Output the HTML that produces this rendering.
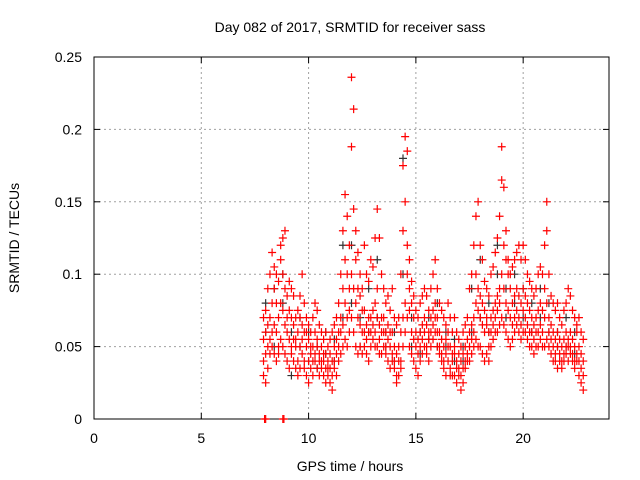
<!DOCTYPE html>
<html><head><meta charset="utf-8"><style>
body{margin:0;background:#fff;}
svg{display:block;font-family:"Liberation Sans",sans-serif;}
</style></head><body>
<svg id="chart" width="640" height="480">
<rect x="0" y="0" width="640" height="480" fill="#fff"/>
<g id="grid"></g><g id="axes"></g><g id="black"></g><g id="red"></g>
<text x="350" y="32" text-anchor="middle" font-size="14">Day 082 of 2017, SRMTID for receiver sass</text>
<text x="350" y="471" text-anchor="middle" font-size="14">GPS time / hours</text>
<text transform="translate(19,238) rotate(-90)" text-anchor="middle" font-size="14">SRMTID / TECUs</text>
</svg>
<script>
const xTicks=[0,5,10,15,20];
const yTicks=[0,0.05,0.1,0.15,0.2,0.25];
const yTickLabels=["0","0.05","0.1","0.15","0.2","0.25"];
const redTimes=[7.9,8.0,8.1,8.2,8.3,8.4,8.5,8.6,8.7,8.8,8.9,9.0,9.1,9.2,9.3,9.4,9.5,9.6,9.7,9.8,9.9,10.0,10.1,10.2,10.3,10.4,10.5,10.6,10.7,10.8,10.9,11.0,11.1,11.2,11.3,11.4,11.5,11.6,11.7,11.8,11.9,12.0,12.1,12.2,12.3,12.4,12.5,12.6,12.7,12.8,12.9,13.0,13.1,13.2,13.3,13.4,13.5,13.6,13.7,13.8,13.9,14.0,14.1,14.2,14.3,14.4,14.5,14.6,14.7,14.8,14.9,15.0,15.1,15.2,15.3,15.4,15.5,15.6,15.7,15.8,15.9,16.0,16.1,16.2,16.3,16.4,16.5,16.6,16.7,16.8,16.9,17.0,17.1,17.2,17.3,17.4,17.5,17.6,17.7,17.8,17.9,18.0,18.1,18.2,18.3,18.4,18.5,18.6,18.7,18.8,18.9,19.0,19.1,19.2,19.3,19.4,19.5,19.6,19.7,19.8,19.9,20.0,20.1,20.2,20.3,20.4,20.5,20.6,20.7,20.8,20.9,21.0,21.1,21.2,21.3,21.4,21.5,21.6,21.7,21.8,21.9,22.0,22.1,22.2,22.3,22.4,22.5,22.6,22.7,22.8];
const redValues=[[.055,.04,.07,.03],[.06,.045,.075,.025],[.05,.035,.065,.09],[.07,.045,.1,.055],[.08,.06,.115,.05],[.065,.045,.09,.105],[.06,.04,.08,.1],[.07,.05,.095,.045],[.08,.055,.11,.12],[.075,.05,.125,.1],[.065,.045,.13,.09],[.06,.04,.085,.07],[.055,.035,.075,.095],[.07,.05,.09,.045],[.065,.04,.085,.055],[.055,.035,.07,.05],[.06,.04,.075,.03],[.05,.035,.07,.085],[.065,.045,.1,.055],[.06,.04,.08,.035],[.05,.03,.07,.06],[.055,.04,.065,.025],[.045,.035,.06,.05],[.05,.03,.07,.04],[.06,.04,.08,.045],[.055,.035,.075,.05],[.045,.03,.065,.04],[.05,.035,.06,.04],[.04,.03,.055,.045],[.045,.035,.06,.025],[.04,.03,.05,.035],[.045,.025,.055,.035],[.04,.02,.06,.03],[.05,.035,.065,.04],[.045,.03,.07,.055],[.06,.04,.08,.05],[.07,.045,.1,.06],[.065,.05,.13,.09],[.08,.055,.155,.11],[.07,.05,.14,.1],[.09,.06,.12,.075],[.1,.07,.236,.188],[.09,.06,.214,.145],[.08,.05,.13,.11],[.07,.045,.115,.09],[.065,.05,.1,.085],[.06,.045,.09,.075],[.075,.05,.12,.06],[.065,.045,.1,.055],[.06,.04,.095,.07],[.07,.05,.11,.06],[.075,.055,.105,.065],[.08,.05,.125,.06],[.07,.05,.145,.09],[.065,.045,.125,.055],[.06,.045,.1,.07],[.07,.05,.09,.06],[.06,.045,.08,.05],[.055,.04,.085,.065],[.05,.035,.075,.06],[.06,.04,.09,.045],[.05,.035,.07,.04],[.045,.03,.065,.025],[.05,.03,.07,.04],[.06,.04,.1,.035],[.07,.05,.175,.13],[.08,.06,.195,.15],[.1,.07,.185,.12],[.075,.05,.11,.09],[.06,.045,.095,.08],[.055,.04,.085,.07],[.05,.035,.075,.06],[.045,.03,.07,.055],[.06,.04,.08,.05],[.065,.045,.085,.055],[.07,.05,.09,.06],[.065,.045,.085,.05],[.06,.04,.075,.055],[.07,.05,.09,.06],[.075,.055,.1,.065],[.08,.06,.11,.07],[.07,.05,.09,.06],[.06,.045,.08,.05],[.055,.04,.075,.045],[.05,.035,.07,.04],[.055,.03,.065,.045],[.06,.04,.08,.05],[.05,.035,.07,.03],[.045,.03,.06,.04],[.05,.03,.07,.045],[.04,.025,.06,.035],[.045,.03,.055,.035],[.04,.02,.05,.03],[.045,.025,.06,.035],[.05,.035,.065,.04],[.055,.04,.07,.045],[.06,.04,.09,.05],[.065,.045,.1,.055],[.07,.05,.12,.06],[.08,.055,.14,.1],[.075,.05,.15,.09],[.07,.05,.12,.085],[.065,.045,.11,.08],[.06,.04,.095,.075],[.065,.045,.09,.07],[.06,.04,.085,.05],[.07,.05,.1,.06],[.075,.055,.105,.065],[.08,.06,.115,.07],[.085,.06,.125,.075],[.09,.065,.14,.08],[.1,.07,.188,.165],[.09,.065,.16,.12],[.08,.06,.13,.11],[.075,.055,.11,.1],[.07,.05,.1,.09],[.08,.055,.105,.065],[.085,.06,.11,.07],[.09,.065,.115,.075],[.085,.06,.12,.07],[.08,.055,.11,.065],[.09,.06,.12,.075],[.085,.06,.11,.07],[.08,.055,.1,.065],[.075,.05,.095,.06],[.07,.05,.09,.06],[.065,.045,.085,.055],[.07,.05,.09,.06],[.075,.05,.1,.06],[.08,.055,.105,.065],[.075,.05,.1,.06],[.07,.05,.12,.09],[.08,.055,.15,.13],[.07,.05,.1,.06],[.065,.045,.085,.055],[.06,.04,.08,.05],[.055,.04,.075,.045],[.06,.035,.08,.05],[.055,.04,.07,.045],[.05,.035,.065,.04],[.055,.04,.075,.045],[.06,.045,.08,.05],[.055,.04,.09,.05],[.06,.045,.085,.05],[.055,.04,.075,.045],[.05,.035,.07,.04],[.06,.04,.065,.045],[.05,.03,.07,.04],[.045,.025,.06,.035],[.04,.02,.055,.03]];
const redZeroTimes=[7.95,8.0,8.8,8.85];
const blackTimes=[8.0,8.4,8.8,9.2,9.6,10.0,10.4,10.8,11.2,11.6,12.0,12.4,12.8,13.2,13.6,14.0,14.4,14.8,15.2,15.6,16.0,16.4,16.8,17.2,17.6,18.0,18.4,18.8,19.2,19.6,20.0,20.4,20.8,21.2,21.6,22.0,22.4];
const blackValues=[[.06,.08],[.05,.09],[.08,.1],[.03,.06],[.05,.07],[.04,.06],[.05,.035],[.045,.06],[.04,.055],[.07,.12],[.12,.08],[.07,.05],[.06,.09],[.11,.07],[.06,.05],[.04,.06],[.18,.1],[.07,.05],[.06,.045],[.07,.055],[.08,.05],[.05,.06],[.04,.055],[.05,.04],[.09,.06],[.11,.07],[.08,.06],[.1,.12],[.09,.07],[.1,.08],[.09,.07],[.08,.06],[.07,.09],[.08,.06],[.06,.05],[.05,.07],[.06,.045]];

const X0=94,X1=609,Y0=419,Y1=57;
const xs=h=>X0+h/24*(X1-X0);
const ys=v=>Y0-v/0.25*(Y0-Y1);
const NS="http://www.w3.org/2000/svg";
function mk(tag,attrs,parent){const e=document.createElementNS(NS,tag);for(const k in attrs)e.setAttribute(k,attrs[k]);parent.appendChild(e);return e;}
const grid=document.getElementById('grid'),axes=document.getElementById('axes');
xTicks.forEach(t=>{
 if(t>0){const g=mk('line',{x1:xs(t),x2:xs(t),y1:Y0,y2:Y1,stroke:'#a0a0a0','stroke-dasharray':'2,3'},grid);
 
 }
 mk('line',{x1:xs(t),x2:xs(t),y1:Y0,y2:Y0-6,stroke:'#000'},axes);
 mk('line',{x1:xs(t),x2:xs(t),y1:Y1,y2:Y1+6,stroke:'#000'},axes);
 const l=mk('text',{x:xs(t),y:Y0+24,'text-anchor':'middle','font-size':14},axes);l.textContent=t;
 
 
});
yTicks.forEach((t,i)=>{
 if(t>0&&t<0.25){const g=mk('line',{x1:X0,x2:X1,y1:ys(t),y2:ys(t),stroke:'#a0a0a0','stroke-dasharray':'2,3'},grid);
 
 }
 mk('line',{x1:X0,x2:X0+6,y1:ys(t),y2:ys(t),stroke:'#000'},axes);
 mk('line',{x1:X1,x2:X1-6,y1:ys(t),y2:ys(t),stroke:'#000'},axes);
 const l=mk('text',{x:X0-12,y:ys(t)+5,'text-anchor':'end','font-size':14},axes);l.textContent=yTickLabels[i];
 
 
});
const frame=mk('rect',{x:X0,y:Y1,width:X1-X0,height:Y0-Y1,fill:'none',stroke:'#000'},axes);


function plus(h,v,color,parent){
 const x=xs(h),y=ys(v);
 const p=mk('path',{d:`M${x-4},${y}h8M${x},${y-4}v8`,stroke:color,'stroke-width':1.2,fill:'none'},parent);
 
 
}
const bg=document.getElementById('black'),rg=document.getElementById('red');
blackTimes.forEach((t,i)=>blackValues[i].forEach(v=>plus(t,v,'#333',bg)));
redTimes.forEach((t,i)=>redValues[i].forEach(v=>plus(t,v,'#ff0000',rg)));
redZeroTimes.forEach(t=>plus(t,0,'#ff0000',rg));
</script>
</body></html>
